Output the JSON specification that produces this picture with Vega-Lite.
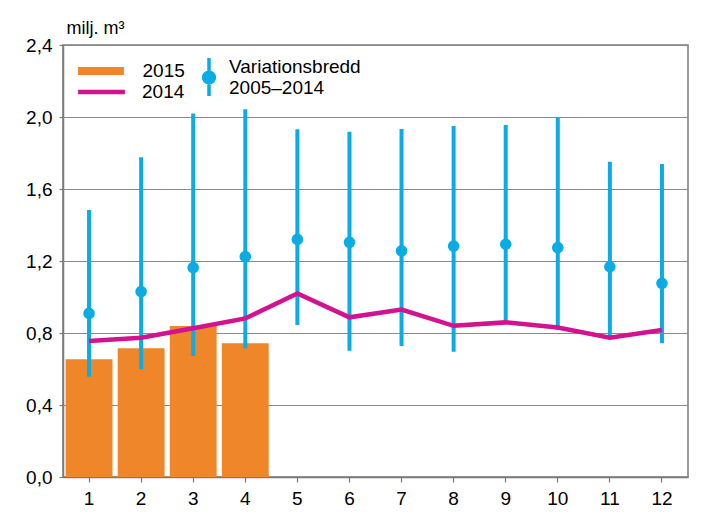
{
  "$schema": "https://vega.github.io/schema/vega-lite/v6.json",
  "width": 625,
  "height": 432,
  "autosize": {"type": "none"},
  "padding": {"left": 63, "top": 45, "right": 32, "bottom": 51},
  "config": {
    "font": "Liberation Sans",
    "view": {"stroke": "#7a7a7a", "strokeWidth": 1.5},
    "axis": {"labelFont": "Liberation Sans", "labelFontSize": 19, "labelColor": "#000000", "domainColor": "#7a7a7a", "tickColor": "#7a7a7a", "domainWidth": 1.5, "tickWidth": 1.2, "gridColor": "#8a8a8a", "gridWidth": 1},
    "legend": {"labelFont": "Liberation Sans", "labelFontSize": 19, "labelColor": "#000000"}
  },
  "data": {
    "values": [
      {"month": 1, "v2015": 0.654, "v2014": 0.755, "mean": 0.909, "min": 0.557, "max": 1.483},
      {"month": 2, "v2015": 0.715, "v2014": 0.774, "mean": 1.03, "min": 0.598, "max": 1.776},
      {"month": 3, "v2015": 0.839, "v2014": 0.826, "mean": 1.163, "min": 0.672, "max": 2.02},
      {"month": 4, "v2015": 0.743, "v2014": 0.881, "mean": 1.224, "min": 0.715, "max": 2.043},
      {"month": 5, "v2015": null, "v2014": 1.02, "mean": 1.32, "min": 0.844, "max": 1.932},
      {"month": 6, "v2015": null, "v2014": 0.887, "mean": 1.304, "min": 0.702, "max": 1.918},
      {"month": 7, "v2015": null, "v2014": 0.93, "mean": 1.256, "min": 0.728, "max": 1.933},
      {"month": 8, "v2015": null, "v2014": 0.84, "mean": 1.283, "min": 0.696, "max": 1.95},
      {"month": 9, "v2015": null, "v2014": 0.859, "mean": 1.293, "min": 0.86, "max": 1.956},
      {"month": 10, "v2015": null, "v2014": 0.83, "mean": 1.274, "min": 0.817, "max": 1.998},
      {"month": 11, "v2015": null, "v2014": 0.774, "mean": 1.168, "min": 0.78, "max": 1.752},
      {"month": 12, "v2015": null, "v2014": 0.817, "mean": 1.076, "min": 0.743, "max": 1.739}
    ]
  },
  "encoding": {
    "x": {
      "field": "month",
      "type": "ordinal",
      "scale": {"paddingInner": 0.1, "paddingOuter": 0.05},
      "axis": {"labelAngle": 0, "title": null, "tickSize": 5, "labelPadding": 7, "grid": false}
    }
  },
  "layer": [
    {
      "mark": {"type": "bar"},
      "encoding": {
        "y": {
          "field": "v2015",
          "type": "quantitative",
          "scale": {"domain": [0, 2.4], "nice": false, "zero": true},
          "axis": {
            "values": [0, 0.4, 0.8, 1.2, 1.6, 2.0, 2.4],
            "labelExpr": "replace(format(datum.value, '.1f'), '.', ',')",
            "title": "milj. m³",
            "titleAngle": 0,
            "titleAlign": "left",
            "titleBaseline": "alphabetic",
            "titleX": 3,
            "titleY": -12,
            "titleFontSize": 18,
            "titleFontWeight": "normal",
            "titleFont": "Liberation Sans",
            "titleColor": "#000000",
            "tickSize": 4,
            "labelPadding": 7,
            "grid": true
          }
        },
        "color": {
          "datum": "2015",
          "type": "nominal",
          "scale": {"domain": ["2015"], "range": ["#EF8629"]},
          "legend": {
            "title": null,
            "orient": "none",
            "legendX": 28.5,
            "legendY": 16.5,
            "symbolType": "M-2.55,-0.45H2.55V0.45H-2.55Z",
            "symbolSize": 324,
            "symbolStrokeWidth": 0,
            "labelOffset": 32,
            "labelFontSize": 19
          }
        }
      }
    },
    {
      "mark": {"type": "rule", "color": "#0AACE3", "strokeWidth": 4},
      "encoding": {
        "y": {"field": "min", "type": "quantitative", "title": "milj. m³"},
        "y2": {"field": "max"},
        "opacity": {
          "datum": "Variationsbredd",
          "type": "ordinal",
          "scale": {"range": [1, 1]},
          "legend": {
            "title": null,
            "orient": "none",
            "legendX": 135,
            "legendY": 11,
            "symbolType": "M0,-1.0V3.22M0.6,1.17A0.6,0.6 0 1,1 -0.6,1.17A0.6,0.6 0 1,1 0.6,1.17ZM0.35,1.17A0.35,0.35 0 1,1 -0.35,1.17A0.35,0.35 0 1,1 0.35,1.17ZM0.12,1.17A0.12,0.12 0 1,1 -0.12,1.17A0.12,0.12 0 1,1 0.12,1.17Z",
            "symbolSize": 324,
            "symbolFillColor": "#0AACE3",
            "symbolStrokeColor": "#0AACE3",
            "symbolStrokeWidth": 3.5,
            "symbolOpacity": 1,
            "labelOffset": 9,
            "labelExpr": "['Variationsbredd', '2005–2014']",
            "labelFontSize": 19
          }
        }
      }
    },
    {
      "mark": {"type": "point", "filled": true, "color": "#0AACE3", "size": 135, "opacity": 1},
      "encoding": {
        "y": {"field": "mean", "type": "quantitative", "title": "milj. m³"}
      }
    },
    {
      "mark": {"type": "line", "color": "#D2128F"},
      "encoding": {
        "y": {"field": "v2014", "type": "quantitative", "title": "milj. m³"},
        "strokeWidth": {
          "datum": "2014",
          "type": "ordinal",
          "scale": {"range": [4.5, 4.5]},
          "legend": {
            "title": null,
            "orient": "none",
            "legendX": 27,
            "legendY": 35.5,
            "symbolType": "M-2.6,0H2.6",
            "symbolSize": 324,
            "symbolStrokeColor": "#D2128F",
            "symbolOpacity": 1,
            "labelOffset": 29,
            "labelFontSize": 19
          }
        }
      }
    }
  ]
}
